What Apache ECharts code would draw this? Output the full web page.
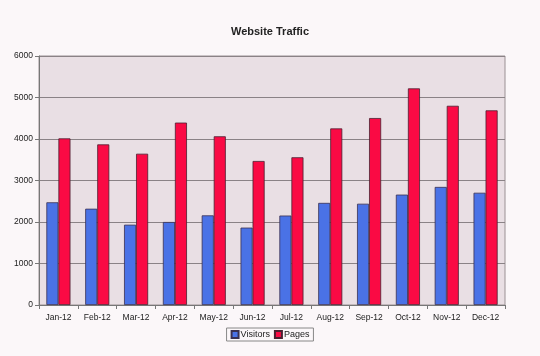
<!DOCTYPE html>
<html><head><meta charset="utf-8">
<script src="https://cdn.jsdelivr.net/npm/echarts@6/dist/echarts.min.js"></script>
<style>html,body{margin:0;padding:0;background:#fbf7f9;}#c{width:540px;height:356px;}</style>
</head><body><div id="c"></div>
<script>
var categories = ['Jan-12','Feb-12','Mar-12','Apr-12','May-12','Jun-12','Jul-12','Aug-12','Sep-12','Oct-12','Nov-12','Dec-12'];
var visitors = [2475, 2320, 1935, 2000, 2160, 1865, 2155, 2460, 2440, 2660, 2845, 2705];
var pages = [4015, 3870, 3645, 4395, 4065, 3470, 3560, 4255, 4505, 5220, 4800, 4690];
var yTicks = [0, 1000, 2000, 3000, 4000, 5000, 6000];

var chart = echarts.init(document.getElementById('c'));
chart.setOption({
  backgroundColor: '#fbf7f9',
  animation: false,
  title: {text: 'Website Traffic', left: 'center', top: 21,
    textStyle: {fontFamily: 'Liberation Sans, Arial', fontSize: 11, fontWeight: 'bold', color: '#222'}},
  legend: {bottom: 15, left: 'center', itemWidth: 7, itemHeight: 7, itemGap: 4,
    icon: 'rect', borderColor: '#888', borderWidth: 1, padding: [2, 4], borderRadius: 0,
    textStyle: {fontFamily: 'Liberation Sans, Arial', fontSize: 9, color: '#222', padding: [0,0,0,-3]},
    data: ['Visitors', 'Pages']},
  grid: {left: 39, right: 35, top: 56, bottom: 51, show: true, backgroundColor: '#e9dfe4', borderColor: '#9a9094', borderWidth: 1},
  xAxis: {type: 'category', data: categories,
    axisLine: {lineStyle: {color: '#777'}},
    axisTick: {show: true, length: 4, interval: 0, lineStyle: {color: '#777'}},
    axisLabel: {interval: 0, fontFamily: 'Liberation Sans, Arial', fontSize: 8.5, color: '#222', margin: 8}},
  yAxis: {type: 'value', min: yTicks[0], max: yTicks[yTicks.length-1], interval: 1000,
    axisLine: {show: true, lineStyle: {color: '#777'}},
    axisTick: {show: true, length: 4, lineStyle: {color: '#777'}},
    splitLine: {lineStyle: {color: '#8a8286'}},
    axisLabel: {formatter: function(v){ return String(v); }, fontFamily: 'Liberation Sans, Arial', fontSize: 8.5, color: '#222', margin: 6}},
  series: [
    {name: 'Visitors', type: 'bar', data: visitors, barGap: '0%', barCategoryGap: '38%',
      itemStyle: {color: '#4a72e6', borderColor: '#3a3050', borderWidth: 0.8}},
    {name: 'Pages', type: 'bar', data: pages,
      itemStyle: {color: '#fa0a44', borderColor: '#4a2030', borderWidth: 0.8}}
  ]
});
</script></body></html>
